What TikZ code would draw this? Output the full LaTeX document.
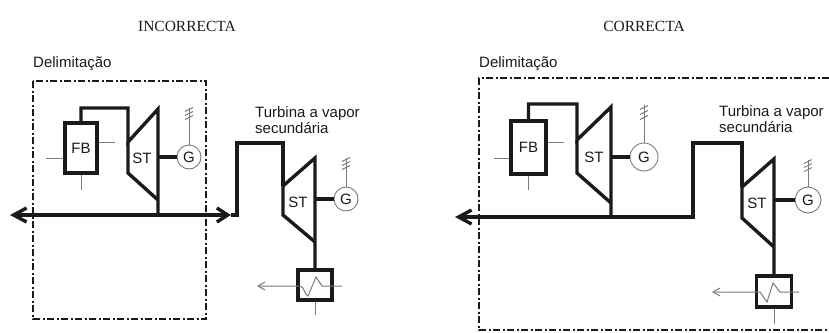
\documentclass[tikz,border=0pt]{standalone}
\usepackage{fontspec}
\newfontfamily\labelfont{Liberation Sans}
\newfontfamily\titlefont{Liberation Serif}
\usetikzlibrary{arrows.meta}
\definecolor{ink}{HTML}{1A1A1A}
\definecolor{thinline}{HTML}{7A7A7A}

\begin{document}
\begin{tikzpicture}[x=1pt,y=-1pt]
	\tikzstyle{Title} = [font={\titlefont\fontsize{15.5}{16}\selectfont}, text=ink]
	\tikzstyle{Label} = [font={\labelfont\fontsize{15}{16}\selectfont}, text=ink, inner sep=0pt]
	\tikzstyle{Border} = [draw=ink, line width=2.8pt, dash pattern=on 7pt off 2.5pt on 2pt off 2.5pt]
	\tikzstyle{Pipe} = [draw=ink, line width=3.4pt]
	\tikzstyle{Box} = [rectangle, draw=ink, line width=3.4pt, inner sep=0pt]
	\tikzstyle{Gen} = [circle, draw=thinline, line width=0.9pt, inner sep=0pt, fill=white, font={\labelfont\fontsize{15}{16}\selectfont}, text=ink]
	\tikzstyle{Thin} = [draw=thinline, line width=1pt]
	\tikzstyle{BigTip} = [{Straight Barb[length=13pt,width=14pt]}-]
	\tikzstyle{SmallTip} = [-{Straight Barb[length=7pt,width=8pt]}]
	\useasboundingbox (0,0) rectangle (829,332);

	% INCORRECTA
	\node (T1) at (187,26) [Title] {INCORRECTA};
	\node (D1) at (33,67) [Label, anchor=base west] {Delimitação};
	\draw [Border] (33,81) rectangle (206,319);

	\node (FB1) at (81,148) [Box, Label, minimum width=32, minimum height=50] {FB};
	\draw [Thin] (FB1.west |- 0,158) -- ++(-17,0);
	\draw [Thin] (FB1.east |- 0,142) -- ++(16,0);
	\draw [Thin] (FB1.south) -- ++(0,15);

	\coordinate (A1) at (128,142);
	\coordinate (B1) at (158,109);
	\coordinate (C1) at (158,200);
	\coordinate (D1) at (128,173);
	\coordinate (E1) at (158,215);
	\draw [Pipe] (FB1.north) |- (128,108) -- (A1) -- (B1) -- (E1);
	\draw [Pipe] (A1) -- (D1) -- (C1);
	\node (ST1) at (142,158) [Label] {ST};
	\node (G1) at (189,157) [Gen, minimum size=24] {G};
	\draw [Pipe] (B1 |- G1) -- (G1);
	\draw [Thin] (G1.north) -- ++(0,-37);
	\foreach \t in {35,31,27}
		\draw [Thin] (G1.north) ++(-4,-\t+2) -- ++(8,-4);

	\coordinate (L1) at (10,215);
	\coordinate (R1) at (231,215);
	\draw [Pipe, BigTip] (L1) -- (E1);
	\draw [Pipe, -{Straight Barb[length=11pt,width=14pt]}] (E1) -- (R1);
	\coordinate (A2) at (283,186);
	\coordinate (B2) at (315,158);
	\coordinate (C2) at (315,242);
	\coordinate (D2) at (283,215);
	\draw [Pipe] (R1) -- (237,215) |- (283,143) -- (A2);

	\node (Cd1) at (315,285) [Box, minimum width=34, minimum height=30] {};
	\draw [Pipe] (A2) -- (B2) -- (Cd1.north);
	\draw [Pipe] (A2) -- (D2) -- (C2);
	\node (ST2) at (298,202) [Label] {ST};
	\node (G2) at (346,199) [Gen, minimum size=24] {G};
	\draw [Pipe] (B2 |- G2) -- (G2);
	\draw [Thin] (G2.north) -- ++(0,-29);
	\foreach \t in {27,23,19}
		\draw [Thin] (G2.north) ++(-4,-\t+2) -- ++(8,-4);
	\node (TV1) at (255,106) [Label, anchor=north west, align=left] {Turbina a vapor\\secundária};

	\coordinate (In1) at (342,286);
	\coordinate (Out1) at (257,286);
	\draw [Thin, SmallTip] (In1) -- (322,286) -- (316,277) -- (308,296) .. controls (305,296) and (304,286) .. (300,286) -- (Out1);
	\draw [Thin] (Cd1.south) -- ++(0,13);

	% CORRECTA
	\node (T3) at (644,26) [Title] {CORRECTA};
	\node (D3) at (479,67) [Label, anchor=base west] {Delimitação};
	\draw [Border] (829,78) -- (479,78) -- (479,330) -- (829,330);

	\node (FB3) at (528.5,147.5) [Box, Label, minimum width=35, minimum height=53] {FB};
	\draw [Thin] (FB3.west |- 0,158) -- ++(-15,0);
	\draw [Thin] (FB3.east |- 0,142) -- ++(16,0);
	\draw [Thin] (FB3.south) -- ++(0,14);

	\coordinate (A3) at (577,140);
	\coordinate (B3) at (611,107);
	\coordinate (C3) at (611,203);
	\coordinate (D3) at (577,173);
	\coordinate (E3) at (611,217);
	\draw [Pipe] (FB3.north) |- (577,104) -- (A3) -- (B3) -- (E3);
	\draw [Pipe] (A3) -- (D3) -- (C3);
	\node (ST3) at (594,157) [Label] {ST};
	\node (G3) at (644,157) [Gen, minimum size=28] {G};
	\draw [Pipe] (B3 |- G3) -- (G3);
	\draw [Thin] (G3.north) -- ++(0,-38);
	\foreach \t in {35,30,25}
		\draw [Thin] (G3.north) ++(-4,-\t+2) -- ++(8,-4);

	\coordinate (L3) at (455,217);
	\coordinate (A4) at (742,187);
	\coordinate (B4) at (774,159);
	\coordinate (C4) at (774,247);
	\coordinate (D4) at (742,218);
	\draw [Pipe, BigTip] (L3) -- (693,217) |- (742,143) -- (A4);

	\node (Cd4) at (774,291.5) [Box, minimum width=35, minimum height=31] {};
	\draw [Pipe] (A4) -- (B4) -- (Cd4.north);
	\draw [Pipe] (A4) -- (D4) -- (C4);
	\node (ST4) at (757,203) [Label] {ST};
	\node (G4) at (808,200) [Gen, minimum size=26] {G};
	\draw [Pipe] (B4 |- G4) -- (G4);
	\draw [Thin] (G4.north) -- ++(0,-27);
	\foreach \t in {25,21,17}
		\draw [Thin] (G4.north) ++(-4,-\t+2) -- ++(8,-4);
	\node (TV3) at (719,105) [Label, anchor=north west, align=left] {Turbina a vapor\\secundária};

	\coordinate (In3) at (799,292);
	\coordinate (Out3) at (712,292);
	\draw [Thin, SmallTip] (In3) -- (780,292) -- (773,283) -- (767,302) -- (760,292) -- (Out3);
	\draw [Thin] (Cd4.south) -- ++(0,15);
\end{tikzpicture}
\end{document}
